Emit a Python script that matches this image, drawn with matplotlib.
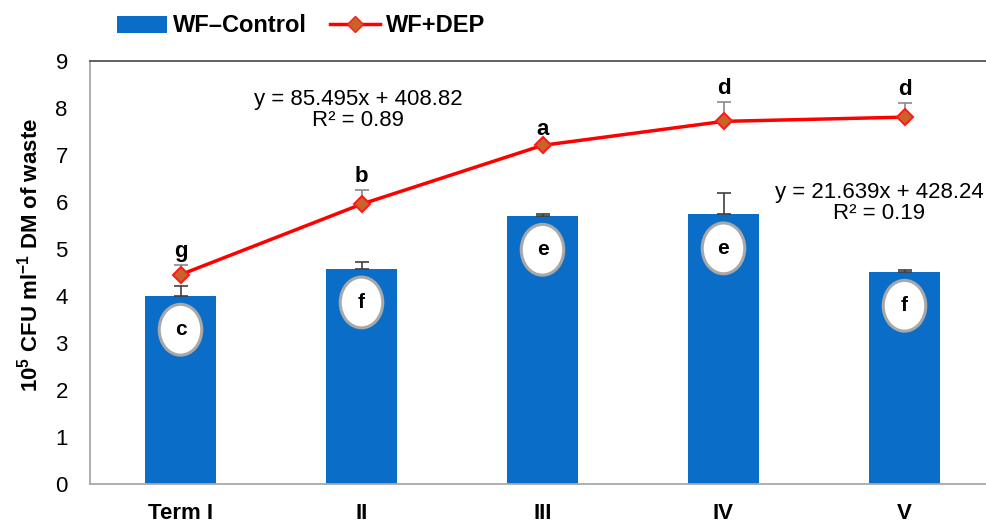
import numpy as np
import matplotlib.pyplot as plt
from matplotlib.patches import Ellipse, Patch
from matplotlib.lines import Line2D

plt.rcParams['font.family'] = ['Liberation Sans', 'DejaVu Sans']
plt.rcParams['mathtext.fontset'] = 'custom'
plt.rcParams['mathtext.bf'] = 'Liberation Sans:bold'
plt.rcParams['mathtext.rm'] = 'Liberation Sans'

terms = ['Term I', 'II', 'III', 'IV', 'V']
control = [4.00, 4.58, 5.70, 5.73, 4.51]
control_err = [0.20, 0.13, 0.03, 0.46, 0.03]
control_letters = ['c', 'f', 'e', 'e', 'f']
dep = [4.45, 5.95, 7.20, 7.71, 7.80]
dep_err = [0.21, 0.30, 0.06, 0.42, 0.30]
dep_letters = ['g', 'b', 'a', 'd', 'd']

x = np.arange(len(terms))

fig = plt.figure(figsize=(9.86, 5.24), dpi=100)
ax = fig.add_axes([90 / 986, 1 - 484 / 524, 905 / 986, (484 - 60.7) / 524])

ax.bar(x, control, width=0.39, color='#0a6ec8', zorder=2)
ax.errorbar(x, control, yerr=[np.zeros(len(x)), control_err], fmt='none',
            ecolor='#404040', elinewidth=1.2, capsize=5, capthick=1.2, zorder=3)

# letter badges inside the bars
for xi, v, lab in zip(x, control, control_letters):
    ax.add_patch(Ellipse((xi, v - 0.72), 0.235, 1.08, facecolor='white',
                         edgecolor='#a8a8a8', lw=2.2, zorder=4))
    ax.text(xi, v - 0.72, lab, ha='center', va='center', fontsize=15,
            fontweight='bold', zorder=5)

ax.errorbar(x, dep, yerr=[np.zeros(len(x)), dep_err], fmt='none',
            ecolor='#8a8a8a', elinewidth=1.2, capsize=5, capthick=1.2, zorder=5)
ax.plot(x, dep, color='#ff0000', lw=2.5, marker='D', markersize=8,
        markerfacecolor='#c8642a', markeredgecolor='#ff1a1a', markeredgewidth=1.5,
        zorder=6)
for xi, v, e, lab in zip(x, dep, dep_err, dep_letters):
    ax.text(xi, v + e + 0.06, lab, ha='center', va='bottom', fontsize=16,
            fontweight='bold', zorder=7)

ax.text(0.98, 7.96, 'y = 85.495x + 408.82\nR² = 0.89', ha='center',
        va='center', fontsize=16, linespacing=1.0)
ax.text(3.86, 5.98, 'y = 21.639x + 428.24\nR² = 0.19', ha='center',
        va='center', fontsize=16, linespacing=1.0)

ax.set_xlim(-0.5, 4.5)
ax.set_ylim(0, 9)
ax.set_yticks(range(0, 10))
ax.set_xticks(x)
ax.set_xticklabels(terms, fontweight='bold')
ax.tick_params(axis='x', length=0, labelsize=16, pad=14)
ax.tick_params(axis='y', length=0, labelsize=16, pad=16)
for s in ['left', 'bottom']:
    ax.spines[s].set_color('#a8a8a8')
    ax.spines[s].set_linewidth(1.3)
ax.spines['top'].set_color('#555555')
ax.spines['top'].set_linewidth(1.3)
ax.spines['right'].set_visible(False)
ax.set_ylabel(r'10$^{\mathbf{5}}$ CFU ml$^{\mathbf{-1}}$ DM of waste', fontsize=16,
              fontweight='bold')
ax.yaxis.set_label_coords(-0.053, 0.54)

handles = [Patch(facecolor='#0a6ec8'),
           Line2D([0], [0], color='#ff0000', lw=2.5, marker='D', markersize=8,
                  markerfacecolor='#c8642a', markeredgecolor='#ff1a1a')]
fig.legend(handles, ['WF\u2013Control', 'WF+DEP'], loc='center left',
           bbox_to_anchor=(96 / 986, 1 - 26 / 524), ncol=2, frameon=False,
           prop={'weight': 'bold', 'size': 17}, handlelength=2.1,
           handleheight=0.7, columnspacing=1.0, handletextpad=0.25)

fig.savefig('out.png', dpi=100)
